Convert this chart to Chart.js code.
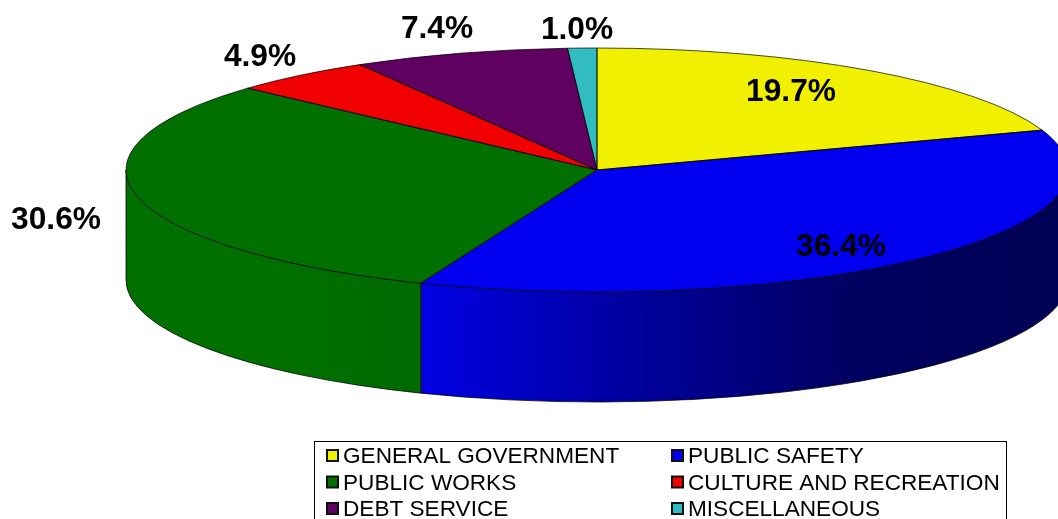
<!DOCTYPE html>
<html>
<head>
<meta charset="utf-8">
<style>
  html, body { margin: 0; padding: 0; background: #fff; overflow: hidden; }
  canvas { display: block; }
</style>
<script src="https://cdn.jsdelivr.net/npm/chart.js@4"></script>
</head>
<body>
<canvas id="budgetPie" width="1058" height="519"></canvas>
<script>
const categories = ['GENERAL GOVERNMENT', 'PUBLIC SAFETY', 'PUBLIC WORKS', 'CULTURE AND RECREATION', 'DEBT SERVICE', 'MISCELLANEOUS'];
const shares = [19.7, 36.4, 30.6, 4.9, 7.4, 1.0];
const shareLabels = ['19.7%', '36.4%', '30.6%', '4.9%', '7.4%', '1.0%'];
const topColors = ['#f0f000', '#0000f0', '#007000', '#f00000', '#600060', '#30bcc0'];

// where the tilted pie sits on the page
const pie = { cx: 597, cy: 170, rx: 471, ry: 122, depth: 110 };
const labelSpots = [[791, 92], [841, 247], [56, 220], [260, 57], [437, 29], [577, 30]];
const legendBox = { x: 314.5, y: 441.5, w: 692, h: 90, rows: [456, 482.5, 509], cols: [327, 672] };

// gradients for the side wall, one per slice that shows a wall
const sideGradients = {
    1: ['#0000e4', '#00009c', '#000060', '#000054'],
    2: ['#007000', '#007000', '#006a00']
};

function drawSides(ctx, arcs) {
    arcs.forEach((arc, i) => {
        const a = Math.max(arc.startAngle, 0);
        const b = Math.min(arc.endAngle, Math.PI);
        if (a >= b) return;
        const x1 = pie.cx + pie.rx * Math.cos(b);
        const x2 = pie.cx + pie.rx * Math.cos(a);
        const stops = sideGradients[i] || [topColors[i], topColors[i]];
        const grad = ctx.createLinearGradient(x1, 0, x2, 0);
        stops.forEach((c, k) => grad.addColorStop(k / (stops.length - 1), c));
        ctx.beginPath();
        ctx.ellipse(pie.cx, pie.cy, pie.rx, pie.ry, 0, a, b);
        ctx.ellipse(pie.cx, pie.cy + pie.depth, pie.rx, pie.ry, 0, b, a, true);
        ctx.closePath();
        ctx.fillStyle = grad;
        ctx.fill();
        ctx.strokeStyle = 'rgba(0,0,0,0.75)';
        ctx.lineWidth = 1;
        ctx.stroke();
    });
}

function drawOutlines(ctx, arcs) {
    ctx.strokeStyle = 'rgba(0,0,0,0.7)';
    ctx.lineWidth = 1;
    arcs.forEach(arc => {
        ctx.beginPath();
        ctx.moveTo(pie.cx, pie.cy);
        ctx.ellipse(pie.cx, pie.cy, pie.rx, pie.ry, 0, arc.startAngle, arc.endAngle);
        ctx.closePath();
        ctx.stroke();
    });
}

function drawLabels(ctx) {
    ctx.fillStyle = '#000';
    ctx.font = 'bold 31.7px "Liberation Sans"';
    ctx.textAlign = 'center';
    ctx.textBaseline = 'middle';
    shareLabels.forEach((t, i) => ctx.fillText(t, labelSpots[i][0], labelSpots[i][1]));
}

function drawLegend(ctx) {
    const box = legendBox;
    ctx.strokeStyle = '#000';
    ctx.lineWidth = 1;
    ctx.strokeRect(box.x, box.y, box.w, box.h);
    ctx.font = '22.6px "Liberation Sans"';
    ctx.textAlign = 'left';
    ctx.textBaseline = 'middle';
    categories.forEach((name, i) => {
        const x = box.cols[i % 2];
        const y = box.rows[Math.floor(i / 2)];
        ctx.fillStyle = topColors[i];
        ctx.fillRect(x, y - 6, 11, 11);
        ctx.strokeStyle = '#111';
        ctx.lineWidth = 2;
        ctx.strokeRect(x, y - 6, 11, 11);
        ctx.fillStyle = '#000';
        ctx.fillText(name, x + 16, y + 1);
    });
}

const tiltedPie = {
    id: 'tiltedPie',
    beforeDatasetDraw(chart, args) {
        const arcs = args.meta.data;
        const ctx = chart.ctx;
        drawSides(ctx, arcs);
        // squash the round pie into the tilted ellipse
        const arc = arcs[0];
        ctx.save();
        ctx.translate(pie.cx, pie.cy);
        ctx.scale(pie.rx / arc.outerRadius, pie.ry / arc.outerRadius);
        ctx.translate(-arc.x, -arc.y);
    },
    afterDatasetDraw(chart, args) {
        const ctx = chart.ctx;
        ctx.restore();
        drawOutlines(ctx, args.meta.data);
    },
    afterDraw(chart) {
        drawLabels(chart.ctx);
        drawLegend(chart.ctx);
    }
};

new Chart(document.getElementById('budgetPie'), {
    type: 'pie',
    data: {
        labels: categories,
        datasets: [{
            data: shares,
            backgroundColor: topColors,
            borderWidth: 0,
            clip: false
        }]
    },
    options: {
        responsive: false,
        animation: false,
        plugins: {
            legend: { display: false },
            tooltip: { enabled: false }
        }
    },
    plugins: [tiltedPie]
});
</script>
</body>
</html>
